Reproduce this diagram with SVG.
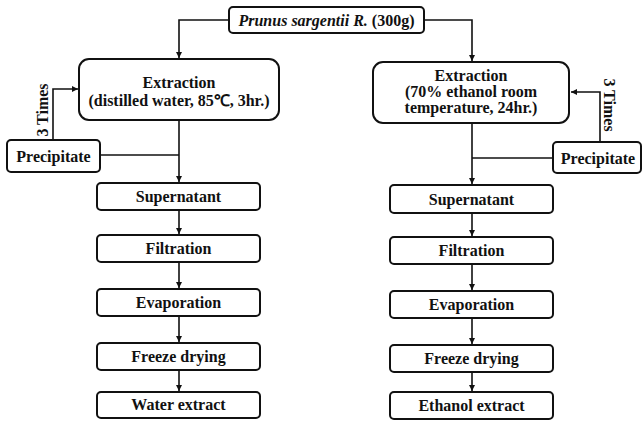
<svg xmlns="http://www.w3.org/2000/svg" width="643" height="421" viewBox="0 0 643 421">
<style>
.box{fill:#fff;stroke:#111;stroke-width:2}
.t{font-family:"Liberation Serif","Times New Roman",serif;font-weight:bold;font-size:16px;fill:#111;text-anchor:middle}
.ln{fill:none;stroke:#111;stroke-width:1.6}
</style>
<defs>
<marker id="ah" markerUnits="userSpaceOnUse" markerWidth="8" markerHeight="8" refX="6" refY="3" orient="auto">
<path d="M0,0 L6,3 L0,6 Z" fill="#111"/>
</marker>
</defs>
<rect width="643" height="421" fill="#fff"/>
<g id="connectors">
<path class="ln" d="M229,20 H179 V58" marker-end="url(#ah)"/>
<path class="ln" d="M423,20 H472 V61" marker-end="url(#ah)"/>
<path class="ln" d="M179,120 V182" marker-end="url(#ah)"/>
<path class="ln" d="M100,155 H179"/>
<path class="ln" d="M53,140 V89 H78" marker-end="url(#ah)"/>
<path class="ln" d="M472,123 V184" marker-end="url(#ah)"/>
<path class="ln" d="M553,158 H472"/>
<path class="ln" d="M600,142 V92 H571" marker-end="url(#ah)"/>
<path class="ln" d="M179,210 V234" marker-end="url(#ah)"/>
<path class="ln" d="M179,262 V288" marker-end="url(#ah)"/>
<path class="ln" d="M179,316 V342" marker-end="url(#ah)"/>
<path class="ln" d="M179,370 V391" marker-end="url(#ah)"/>
<path class="ln" d="M472,213 V236" marker-end="url(#ah)"/>
<path class="ln" d="M472,264 V290" marker-end="url(#ah)"/>
<path class="ln" d="M472,318 V344" marker-end="url(#ah)"/>
<path class="ln" d="M472,372 V391" marker-end="url(#ah)"/>
<text class="t" font-size="17" transform="translate(48,110) rotate(-90)">3 Times</text>
<text class="t" transform="translate(604,105) rotate(90)">3 Times</text>
</g>
<g id="source">
<rect class="box" x="229" y="7" width="195" height="26" rx="4"/>
<text class="t" x="326.5" y="25.5"><tspan font-style="italic">Prunus sargentii R.</tspan> (300g)</text>
</g>
<g id="extraction-water">
<rect class="box" x="79" y="59" width="200" height="61" rx="10"/>
<text class="t" x="179" y="88">Extraction</text>
<text class="t" x="179" y="106">(distilled water, 85℃, 3hr.)</text>
</g>
<g id="extraction-ethanol">
<rect class="box" x="373" y="62" width="196" height="61" rx="10"/>
<text class="t" x="471" y="81">Extraction</text>
<text class="t" x="471" y="97">(70% ethanol room</text>
<text class="t" x="471" y="113">temperature, 24hr.)</text>
</g>
<g id="precipitate-water">
<rect class="box" x="7" y="140" width="93" height="32" rx="4"/>
<text class="t" x="53.5" y="162">Precipitate</text>
</g>
<g id="precipitate-ethanol">
<rect class="box" x="553" y="142" width="88" height="31" rx="4"/>
<text class="t" x="598" y="164">Precipitate</text>
</g>
<g id="supernatant-water"><rect class="box" x="97" y="183" width="163" height="27" rx="4"/><text class="t" x="178.5" y="202">Supernatant</text></g>
<g id="filtration-water"><rect class="box" x="97" y="235" width="163" height="27" rx="4"/><text class="t" x="178.5" y="254">Filtration</text></g>
<g id="evaporation-water"><rect class="box" x="97" y="289" width="163" height="27" rx="4"/><text class="t" x="178.5" y="308">Evaporation</text></g>
<g id="freeze-water"><rect class="box" x="97" y="343" width="163" height="27" rx="4"/><text class="t" x="178.5" y="362">Freeze drying</text></g>
<g id="water-extract"><rect class="box" x="97" y="392" width="163" height="26" rx="4"/><text class="t" x="178.5" y="410">Water extract</text></g>
<g id="supernatant-ethanol"><rect class="box" x="390" y="185" width="163" height="28" rx="4"/><text class="t" x="471.5" y="204.5">Supernatant</text></g>
<g id="filtration-ethanol"><rect class="box" x="390" y="237" width="163" height="27" rx="4"/><text class="t" x="471.5" y="256">Filtration</text></g>
<g id="evaporation-ethanol"><rect class="box" x="390" y="291" width="163" height="27" rx="4"/><text class="t" x="471.5" y="310">Evaporation</text></g>
<g id="freeze-ethanol"><rect class="box" x="390" y="345" width="163" height="27" rx="4"/><text class="t" x="471.5" y="364">Freeze drying</text></g>
<g id="ethanol-extract"><rect class="box" x="390" y="392" width="163" height="27" rx="4"/><text class="t" x="471.5" y="411">Ethanol extract</text></g>
</svg>
